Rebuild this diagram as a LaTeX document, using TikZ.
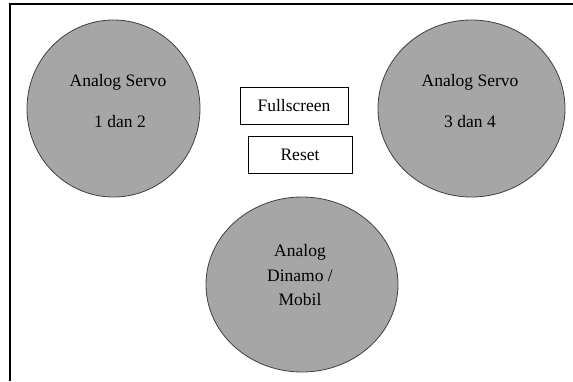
\documentclass[tikz,border=0pt]{standalone}
\usepackage{fontspec}
\setmainfont{Liberation Serif}
\usetikzlibrary{shapes.geometric}
\tikzset{
    knob/.style={ellipse, draw=black!75, fill=black!35, line width=0.8pt, inner sep=0pt},
    tombol/.style={rectangle, draw=black, line width=0.9pt, inner sep=0pt},
    teks/.style={font=\fontsize{17.5}{20}\selectfont, inner sep=0pt}
}
\begin{document}
\begin{tikzpicture}[x=1pt,y=-1pt]
    \useasboundingbox (0,0) rectangle (573,381);
    \draw[line width=1.5pt] (10,381) coordinate (fa) -- (10,4) coordinate (fb) -- (573,4) coordinate (fc); %frame
    % analog
    \node[knob, minimum width=173pt, minimum height=177pt] (s12) at (113.5,108.5) {};
    \node[knob, minimum width=187pt, minimum height=177pt] (s34) at (471.5,108.5) {};
    \node[knob, minimum width=192pt, minimum height=175pt] (din) at (302,284.5) {};
    \node[teks] (s12a) at (118,82) {Analog Servo};
    \node[teks] (s12b) at (120,122) {1 dan 2};
    \node[teks] (s34a) at (470,82) {Analog Servo};
    \node[teks] (s34b) at (470,122) {3 dan 4};
    \node[teks] (dina) at (300,252) {Analog};
    \node[teks] (dinb) at (300,276) {Dinamo /};
    \node[teks] (dinc) at (300,300) {Mobil};
    % tombol
    \node[tombol, minimum width=108pt, minimum height=37pt] (full) at (294,105.5) {};
    \node[tombol, minimum width=104pt, minimum height=37pt] (reset) at (300,154.5) {};
    \node[teks] (fullt) at (full) {Fullscreen};
    \node[teks] (resett) at (reset) {Reset};
\end{tikzpicture}
\end{document}
